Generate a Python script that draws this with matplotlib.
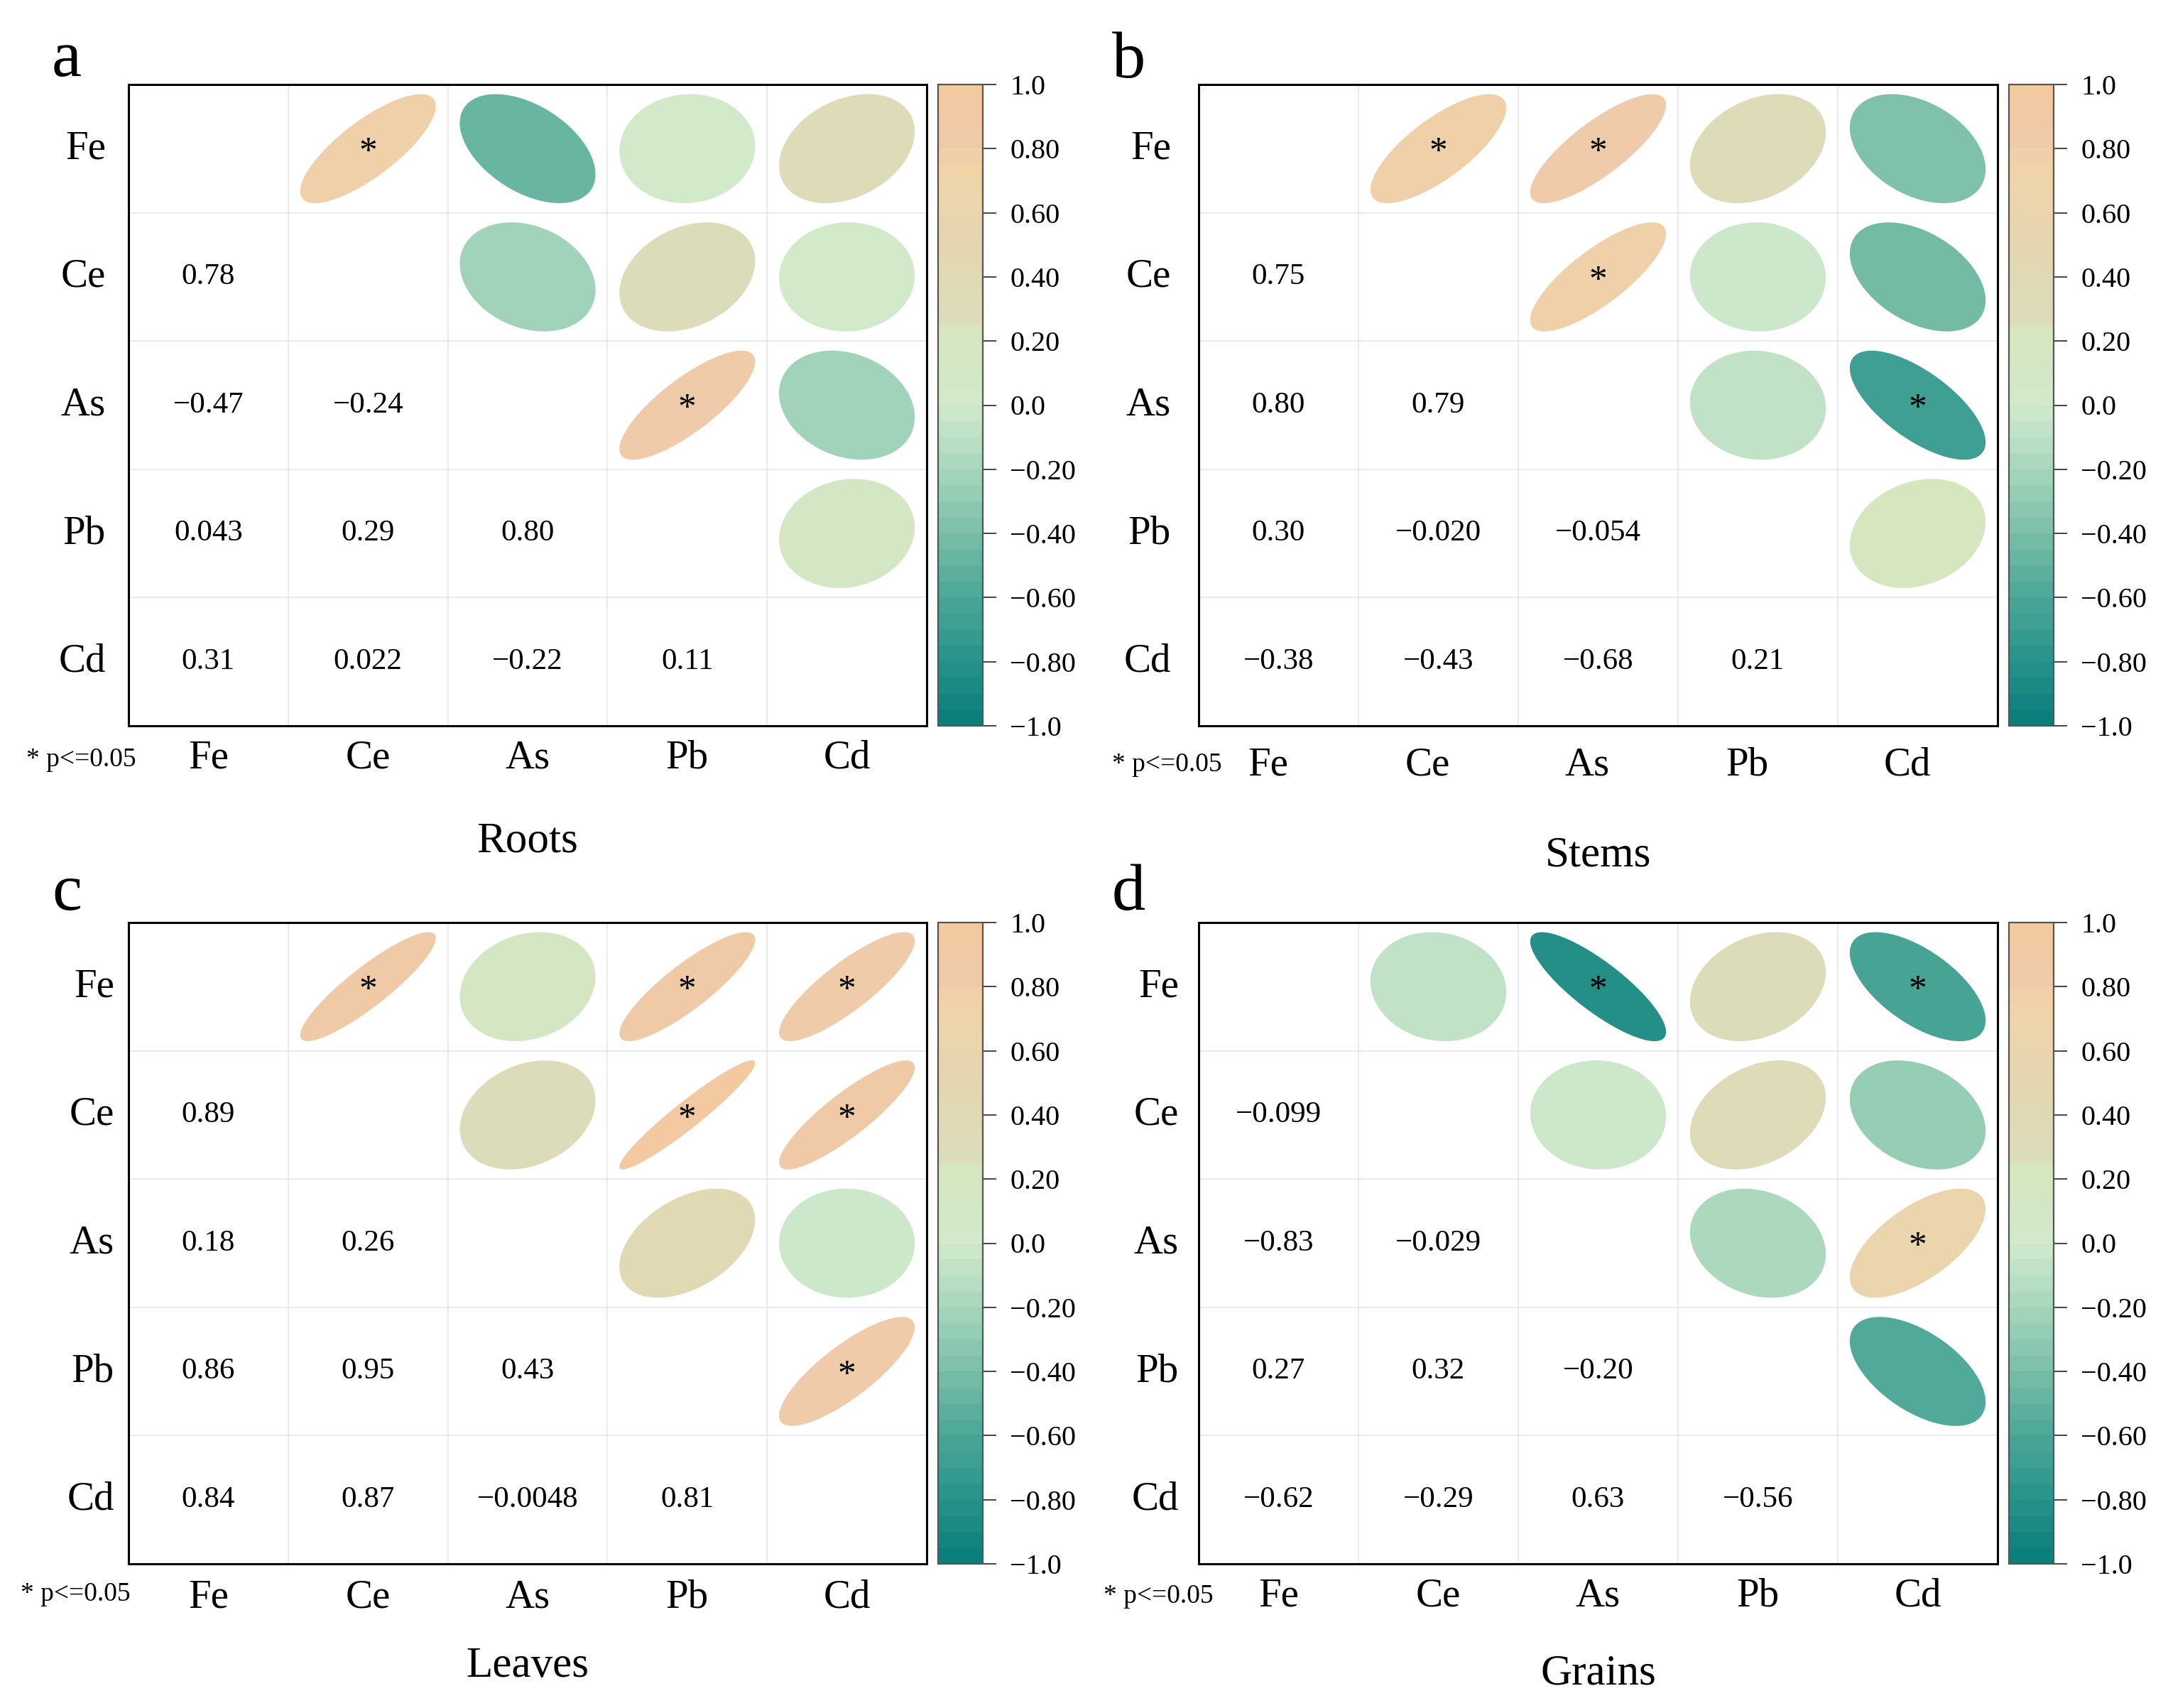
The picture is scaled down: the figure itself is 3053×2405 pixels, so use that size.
"""Correlation ellipse matrices of Fe, Ce, As, Pb and Cd in four rice tissues."""

import numpy as np
import matplotlib

matplotlib.use("Agg")
import matplotlib.pyplot as plt
from matplotlib.cm import ScalarMappable
from matplotlib.colors import LinearSegmentedColormap, Normalize
from matplotlib.patches import Polygon

plt.rcParams["font.family"] = ["Liberation Serif", "DejaVu Serif"]

ELEMENTS = ["Fe", "Ce", "As", "Pb", "Cd"]

# lower triangle, row i holds r(ELEMENTS[i], ELEMENTS[j]) for j < i
roots_r = [
    [],
    [0.78],
    [-0.47, -0.24],
    [0.043, 0.29, 0.80],
    [0.31, 0.022, -0.22, 0.11],
]
stems_r = [
    [],
    [0.75],
    [0.80, 0.79],
    [0.30, -0.020, -0.054],
    [-0.38, -0.43, -0.68, 0.21],
]
leaves_r = [
    [],
    [0.89],
    [0.18, 0.26],
    [0.86, 0.95, 0.43],
    [0.84, 0.87, -0.0048, 0.81],
]
grains_r = [
    [],
    [-0.099],
    [-0.83, -0.029],
    [0.27, 0.32, -0.20],
    [-0.62, -0.29, 0.63, -0.56],
]

# pairs with p <= 0.05
roots_sig = [("Fe", "Ce"), ("As", "Pb")]
stems_sig = [("Fe", "Ce"), ("Fe", "As"), ("Ce", "As"), ("As", "Cd")]
leaves_sig = [("Fe", "Ce"), ("Fe", "Pb"), ("Fe", "Cd"), ("Ce", "Pb"), ("Ce", "Cd"), ("Pb", "Cd")]
grains_sig = [("Fe", "As"), ("Fe", "Cd"), ("As", "Cd")]

tissues = ["Roots", "Stems", "Leaves", "Grains"]
letters = ["a", "b", "c", "d"]

CBAR_TICKS = [1.0, 0.8, 0.6, 0.4, 0.2, 0.0, -0.2, -0.4, -0.6, -0.8, -1.0]
CBAR_LABELS = ["1.0", "0.80", "0.60", "0.40", "0.20", "0.0",
               "\u22120.20", "\u22120.40", "\u22120.60", "\u22120.80", "\u22121.0"]

CMAP_POS = [-1.0, -0.8, -0.6, -0.4, -0.2, 0.0, 0.24, 0.27, 0.4, 0.6, 0.75, 0.85, 1.0]
CMAP_COLORS = ["#0b7f7b", "#2b948b", "#4ea898", "#7cbfa9", "#a8d6bd", "#d1e9cb",
               "#d6e6bf", "#dcdcba", "#dfd9b5", "#e8d5af", "#efd4a8", "#efcbaa", "#f2c9a0"]

W, H = 3053, 2405

# pixel layout of each panel
LAYOUT = {
    "a": dict(box=(181, 119, 1305, 1022), cbar=(1321, 1384), row_pad=32, col_dx=0, col_dy=46,
              note_dx=-144, note_dy=48, title_dy=178, letter=(73, 107)),
    "b": dict(box=(1688, 119, 2813, 1022), cbar=(2829, 2892), row_pad=39, col_dx=-15, col_dy=56,
              note_dx=-122, note_dy=55, title_dy=198, letter=(1566, 109)),
    "c": dict(box=(181, 1299, 1305, 2202), cbar=(1321, 1384), row_pad=20, col_dx=0, col_dy=47,
              note_dx=-152, note_dy=43, title_dy=159, letter=(73, 1281)),
    "d": dict(box=(1688, 1299, 2813, 2202), cbar=(2829, 2892), row_pad=28, col_dx=0, col_dy=46,
              note_dx=-134, note_dy=46, title_dy=170, letter=(1566, 1281)),
}
PT = 0.72  # points per pixel at dpi 100


def fig_rect(x0, y0, x1, y1):
    return [x0 / W, 1 - y1 / H, (x1 - x0) / W, (y1 - y0) / H]


def full_matrix(lower):
    n = len(ELEMENTS)
    m = np.eye(n)
    for i, row in enumerate(lower):
        for j, v in enumerate(row):
            m[i, j] = v
            m[j, i] = v
    return m


def fmt(v):
    return f"{v:#.2g}".replace("-", "\u2212")


def draw_panel(fig, key, lower, sig, title, cmap, norm):
    lay = LAYOUT[key]
    x0, y0, x1, y1 = lay["box"]
    ax = fig.add_axes(fig_rect(x0, y0, x1, y1))
    n = len(ELEMENTS)
    m = full_matrix(lower)
    ax.set_xlim(-0.5, n - 0.5)
    ax.set_ylim(n - 0.5, -0.5)
    ax.set_xticks([])
    ax.set_yticks([])
    for s in ax.spines.values():
        s.set_linewidth(2.2)
    for k in range(1, n):
        ax.axvline(k - 0.5, color="#e4e4e4", lw=1.1, zorder=0)
        ax.axhline(k - 0.5, color="#e4e4e4", lw=1.1, zorder=0)

    t = np.linspace(0, 2 * np.pi, 240)
    sig_idx = {(ELEMENTS.index(a), ELEMENTS.index(b)) for a, b in sig}
    for i in range(n):
        for j in range(n):
            if j < i:
                ax.text(j, i, fmt(m[i, j]), ha="center", va="center", fontsize=31)
            elif j > i:
                r = m[i, j]
                d = np.arccos(r)
                xs = j + 0.425 * np.cos(t + d / 2)
                ys = i - 0.425 * np.cos(t - d / 2)
                ax.add_patch(Polygon(np.column_stack([xs, ys]), closed=True,
                                     facecolor=cmap(norm(r)), edgecolor="none", zorder=2))
                if (i, j) in sig_idx:
                    ax.annotate("*", (j, i), xytext=(0, -4), textcoords="offset points",
                                ha="center", va="center", fontsize=37, zorder=3)

    for i, name in enumerate(ELEMENTS):
        ax.annotate(name, (0, i), xycoords=("axes fraction", "data"),
                    xytext=(-lay["row_pad"] * PT, 0), textcoords="offset points",
                    ha="right", va="center", fontsize=41)
        ax.annotate(name, (i, 0), xycoords=("data", "axes fraction"),
                    xytext=(lay["col_dx"] * PT, -lay["col_dy"] * PT), textcoords="offset points",
                    ha="center", va="center", fontsize=41)
    ax.annotate("* p<=0.05", (0, 0), xycoords="axes fraction",
                xytext=(lay["note_dx"] * PT, -lay["note_dy"] * PT), textcoords="offset points",
                ha="left", va="center", fontsize=27)
    ax.annotate(title, (0.5, 0), xycoords="axes fraction",
                xytext=(0, -lay["title_dy"] * PT), textcoords="offset points",
                ha="center", va="baseline", fontsize=44)

    lx, ly = lay["letter"]
    fig.text(lx / W, 1 - ly / H, key, ha="left", va="baseline", fontsize=68)

    c0, c1 = lay["cbar"]
    cax = fig.add_axes(fig_rect(c0, y0, c1, y1))
    cb = fig.colorbar(ScalarMappable(norm=norm, cmap=cmap), cax=cax, ticks=CBAR_TICKS)
    cb.ax.set_yticklabels(CBAR_LABELS)
    cb.outline.set_edgecolor("#555555")
    cb.outline.set_linewidth(1.6)
    cb.ax.tick_params(length=13.7, width=1.4, color="#444444", pad=13.7, labelsize=29)


def main():
    cmap = LinearSegmentedColormap.from_list(
        "corr", list(zip([(p + 1) / 2 for p in CMAP_POS], CMAP_COLORS)), N=40)
    norm = Normalize(-1, 1)

    fig = plt.figure(figsize=(W / 100, H / 100), dpi=100)
    fig.patch.set_facecolor("white")
    panels = [roots_r, stems_r, leaves_r, grains_r]
    sigs = [roots_sig, stems_sig, leaves_sig, grains_sig]
    for key, lower, sig, title in zip(letters, panels, sigs, tissues):
        draw_panel(fig, key, lower, sig, title, cmap, norm)
    fig.savefig("out.png", dpi=100)
    plt.close(fig)


if __name__ == "__main__":
    main()
